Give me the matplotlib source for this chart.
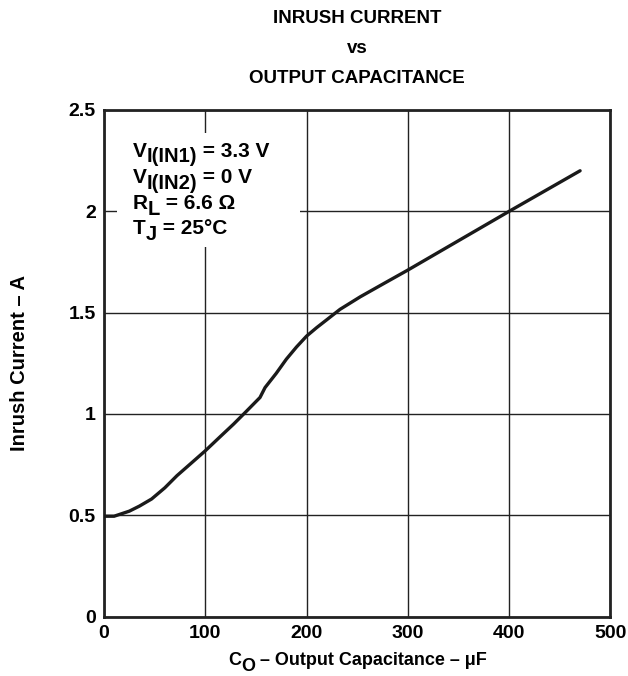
import matplotlib
matplotlib.use('Agg')
import matplotlib.pyplot as plt
from matplotlib.patches import Rectangle
from matplotlib.transforms import offset_copy

# curve
cap_uF = [0, 10, 25, 35, 47, 60, 72, 85, 100, 115, 128, 140, 154, 159, 170, 180, 190, 200,
          210, 220, 233, 253, 275, 300, 350, 400, 470]
inrush_A = [0.495, 0.495, 0.52, 0.545, 0.58, 0.635, 0.695, 0.752, 0.818, 0.889, 0.95, 1.01,
            1.081, 1.13, 1.20, 1.27, 1.33, 1.384, 1.426, 1.465, 1.516, 1.578, 1.64, 1.71,
            1.855, 2.0, 2.2]

x_ticks = [0, 100, 200, 300, 400, 500]
y_ticks = [0, 0.5, 1, 1.5, 2, 2.5]
y_ticklabels = ['0', '0.5', '1', '1.5', '2', '2.5']

# test conditions: (main, subscript, rest)
conditions = [('V', 'I(IN1)', ' = 3.3 V'),
              ('V', 'I(IN2)', ' = 0 V'),
              ('R', 'L', ' = 6.6 Ω'),
              ('T', 'J', ' = 25°C')]

plt.rcParams['font.family'] = ['Liberation Sans', 'DejaVu Sans']
plt.rcParams['font.weight'] = 'bold'

fig = plt.figure(figsize=(6.28, 6.76), dpi=100)
ax = fig.add_axes([0.1656, 0.088, 0.8065, 0.7493])
renderer = fig.canvas.get_renderer()

ax.plot(cap_uF, inrush_A, color='#1a1a1a', lw=2.4, zorder=4,
        solid_capstyle='round', solid_joinstyle='round')

ax.set_xlim(0, 500)
ax.set_ylim(0, 2.5)
ax.set_xticks(x_ticks)
ax.set_yticks(y_ticks)
ax.set_yticklabels(y_ticklabels)
ax.tick_params(length=0, labelsize=14, pad=6)
for lab in ax.get_xticklabels() + ax.get_yticklabels():
    lab.set_fontweight('bold')
ax.grid(True, color='#222222', lw=1.0)
ax.set_axisbelow(True)
for sp in ax.spines.values():
    sp.set_linewidth(2.0)
    sp.set_color('#222222')


def pieces_width(pieces):
    total = 0
    for s, size, drop in pieces:
        t = fig.text(0, 0, s, fontsize=size, fontweight='bold')
        total += t.get_window_extent(renderer).width * 72 / fig.dpi
        t.remove()
    return total


def draw_pieces(x, y, pieces, base_tr, zorder=5):
    dx = 0
    for s, size, drop in pieces:
        tr = offset_copy(base_tr, fig=fig, x=dx, y=-drop, units='points')
        t = fig.text(x, y, s, fontsize=size, fontweight='bold', transform=tr,
                     ha='left', va='baseline', zorder=zorder)
        dx += t.get_window_extent(renderer).width * 72 / fig.dpi


# white box behind the test conditions
ax.add_patch(Rectangle((12.8, 1.823), 180.7, 0.563, facecolor='white',
                       edgecolor='none', zorder=2))
y_base = [2.27, 2.14, 2.01, 1.887]
for (main, sub, rest), yb in zip(conditions, y_base):
    draw_pieces(28.3, yb, [(main, 15, 0), (sub, 14.5, 4.2), (rest, 15, 0)], ax.transData)

# x label with a full-height subscript
xlab = [('C', 13, 0), ('O', 13, 4), (' – Output Capacitance – μF', 13, 0)]
w_pt = pieces_width(xlab)
draw_pieces(0.5, -0.096, xlab,
            offset_copy(ax.transAxes, fig=fig, x=-w_pt / 2, y=0, units='points'))

fig.text(20 / 628, 0.4637, 'Inrush Current – A', fontsize=14.5, fontweight='bold',
         rotation=90, ha='center', va='center')

fig.text(0.5685, 0.985, 'INRUSH CURRENT\nvs\nOUTPUT CAPACITANCE', fontsize=13.5,
         fontweight='bold', ha='center', va='top', linespacing=2.0)

fig.savefig('out.png', dpi=100)
